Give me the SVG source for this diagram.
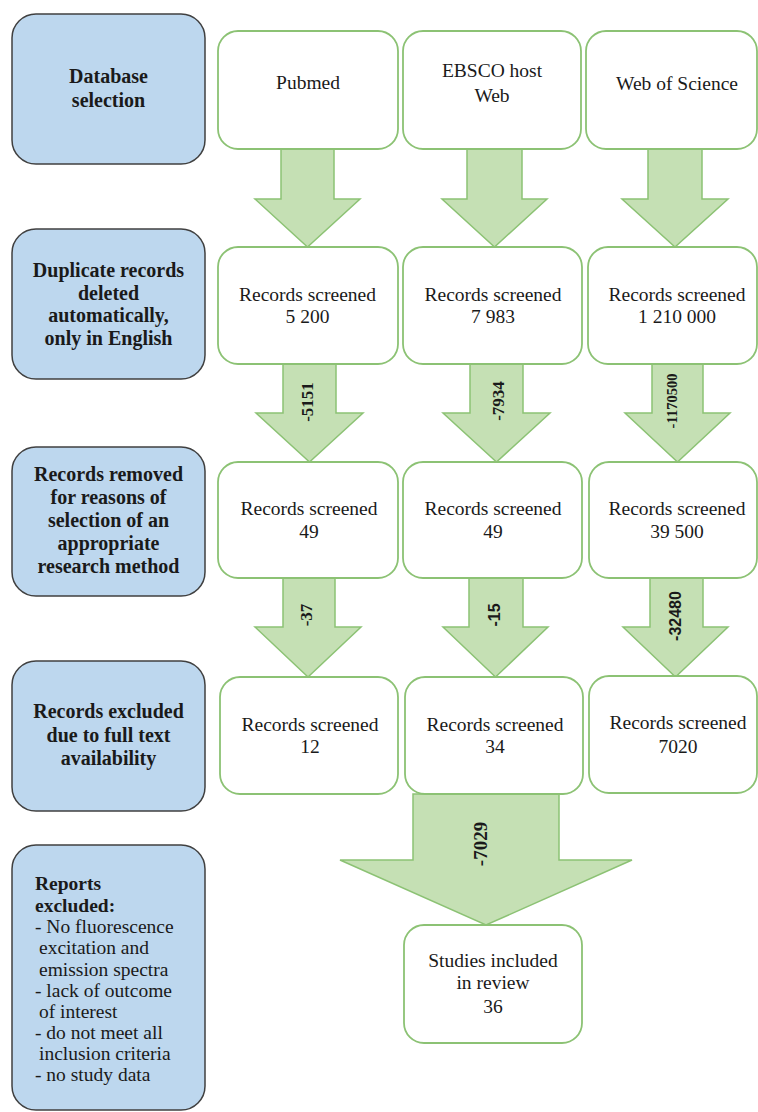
<svg xmlns="http://www.w3.org/2000/svg" width="758" height="1112" viewBox="0 0 758 1112">
<style>
.bg{fill:#ffffff}
.stage rect{fill:#BDD7EE;stroke:#404040;stroke-width:1.5}
.box rect{fill:#ffffff;stroke:#8CC274;stroke-width:1.8}
.arr{fill:#C5E0B4;stroke:#8CC274;stroke-width:1.5;stroke-linejoin:miter}
text{font-family:"Liberation Serif","Times New Roman",serif;fill:#1a1a1a}
.st{font-size:20px;font-weight:bold;text-anchor:middle}
.bt{font-size:19.5px;text-anchor:middle}
.lt{font-size:19.5px}
.lb{font-size:19.5px;font-weight:bold}
.al{font-size:17px;font-weight:bold;text-anchor:middle}
.as{font-family:"Liberation Sans",Arial,sans-serif;font-size:16px;font-weight:bold;text-anchor:middle}
</style>
<rect class="bg" x="0" y="0" width="758" height="1112"/>

<g id="connectors">
  <polygon class="arr" points="281,149 334,149 334,199 360,199 307.5,247 255,199 281,199"/>
  <polygon class="arr" points="467,149 522,149 522,199 547,199 494.5,247 442,199 467,199"/>
  <polygon class="arr" points="648,149 702,149 702,199 728,199 675,247 622,199 648,199"/>

  <polygon class="arr" points="283,364 336,364 336,413 363,413 309.5,462 256,413 283,413"/>
  <polygon class="arr" points="470,364 523,364 523,413 550,413 496.5,462 443,413 470,413"/>
  <polygon class="arr" points="652,364 703,364 703,413 730,413 677.5,462 625,413 652,413"/>

  <polygon class="arr" points="283,578 335,578 335,627 361,627 308,677 255,627 283,627"/>
  <polygon class="arr" points="469,578 523,578 523,627 548,627 495.5,677 443,627 469,627"/>
  <polygon class="arr" points="650,578 703,578 703,627 728,627 675.5,677 623,627 650,627"/>

  <polygon class="arr" points="413,794 559,794 559,860 632,860 486,925 340,860 413,860"/>

  <text class="al" transform="translate(306.5,402) rotate(-90)" y="6">-5151</text>
  <text class="al" transform="translate(497.5,401) rotate(-90)" y="6">-7934</text>
  <text class="al" transform="translate(671.5,401) rotate(-90)" y="5" style="font-size:14.5px">-1170500</text>
  <text class="al" transform="translate(306,615) rotate(-90)" y="6">-37</text>
  <text class="as" transform="translate(494,615) rotate(-90)" y="6">-15</text>
  <text class="as" transform="translate(674.5,616) rotate(-90)" y="6">-32480</text>
  <text class="al" transform="translate(480,844) rotate(-90)" y="7" style="font-size:19px">-7029</text>
</g>

<g id="stage1" class="stage">
  <rect x="12" y="14" width="193" height="150" rx="24"/>
  <text class="st" x="108.5" y="83">Database</text>
  <text class="st" x="108.5" y="107">selection</text>
</g>
<g id="stage2" class="stage">
  <rect x="12" y="229" width="193" height="150" rx="24"/>
  <text class="st" x="108.5" y="277">Duplicate records</text>
  <text class="st" x="108.5" y="300">deleted</text>
  <text class="st" x="108.5" y="322">automatically,</text>
  <text class="st" x="108.5" y="345">only in English</text>
</g>
<g id="stage3" class="stage">
  <rect x="12" y="447" width="193" height="149" rx="24"/>
  <text class="st" x="108.5" y="481">Records removed</text>
  <text class="st" x="108.5" y="504">for reasons of</text>
  <text class="st" x="108.5" y="527">selection of an</text>
  <text class="st" x="108.5" y="550">appropriate</text>
  <text class="st" x="108.5" y="573">research method</text>
</g>
<g id="stage4" class="stage">
  <rect x="12" y="661" width="193" height="150" rx="24"/>
  <text class="st" x="108.5" y="718">Records excluded</text>
  <text class="st" x="108.5" y="742">due to full text</text>
  <text class="st" x="108.5" y="765">availability</text>
</g>
<g id="stage5" class="stage">
  <rect x="12" y="845" width="193" height="265" rx="24"/>
  <text class="lb" x="35" y="890">Reports</text>
  <text class="lb" x="35" y="912">excluded:</text>
  <text class="lt" x="35" y="933">- No fluorescence</text>
  <text class="lt" x="39" y="954">excitation and</text>
  <text class="lt" x="39" y="976">emission spectra</text>
  <text class="lt" x="35" y="997">- lack of outcome</text>
  <text class="lt" x="39" y="1018">of interest</text>
  <text class="lt" x="35" y="1039">- do not meet all</text>
  <text class="lt" x="39" y="1060">inclusion criteria</text>
  <text class="lt" x="35" y="1081">- no study data</text>
</g>

<g id="pubmed" class="box">
  <rect x="218" y="31" width="180" height="118" rx="20"/>
  <text class="bt" x="308" y="89">Pubmed</text>
</g>
<g id="ebsco" class="box">
  <rect x="403" y="31" width="178" height="118" rx="20"/>
  <text class="bt" x="492" y="77">EBSCO host</text>
  <text class="bt" x="492" y="102">Web</text>
</g>
<g id="wos" class="box">
  <rect x="586" y="31" width="171" height="118" rx="20"/>
  <text class="bt" x="677" y="90">Web of Science</text>
</g>

<g id="pubmed-screened-1" class="box">
  <rect x="218" y="247" width="180" height="117" rx="20"/>
  <text class="bt" x="307.5" y="301">Records screened</text>
  <text class="bt" x="307.5" y="323">5 200</text>
</g>
<g id="ebsco-screened-1" class="box">
  <rect x="403" y="247" width="179" height="117" rx="20"/>
  <text class="bt" x="493" y="301">Records screened</text>
  <text class="bt" x="493" y="323">7 983</text>
</g>
<g id="wos-screened-1" class="box">
  <rect x="588" y="247" width="169" height="117" rx="20"/>
  <text class="bt" x="677" y="301">Records screened</text>
  <text class="bt" x="677" y="323">1 210 000</text>
</g>

<g id="pubmed-screened-2" class="box">
  <rect x="218" y="462" width="180" height="116" rx="20"/>
  <text class="bt" x="309" y="515">Records screened</text>
  <text class="bt" x="309" y="538">49</text>
</g>
<g id="ebsco-screened-2" class="box">
  <rect x="403" y="462" width="179" height="116" rx="20"/>
  <text class="bt" x="493" y="515">Records screened</text>
  <text class="bt" x="493" y="538">49</text>
</g>
<g id="wos-screened-2" class="box">
  <rect x="589" y="462" width="168" height="116" rx="20"/>
  <text class="bt" x="677" y="515">Records screened</text>
  <text class="bt" x="677" y="538">39 500</text>
</g>

<g id="pubmed-screened-3" class="box">
  <rect x="220" y="677" width="178" height="117" rx="20"/>
  <text class="bt" x="310" y="731">Records screened</text>
  <text class="bt" x="310" y="753">12</text>
</g>
<g id="ebsco-screened-3" class="box">
  <rect x="405" y="677" width="178" height="117" rx="20"/>
  <text class="bt" x="495" y="731">Records screened</text>
  <text class="bt" x="495" y="753">34</text>
</g>
<g id="wos-screened-3" class="box">
  <rect x="589" y="676" width="168" height="117" rx="20"/>
  <text class="bt" x="678" y="729">Records screened</text>
  <text class="bt" x="678" y="753">7020</text>
</g>

<g id="included" class="box">
  <rect x="404" y="925" width="178" height="118" rx="20"/>
  <text class="bt" x="493" y="967">Studies included</text>
  <text class="bt" x="493" y="989">in review</text>
  <text class="bt" x="493" y="1013">36</text>
</g>
</svg>
